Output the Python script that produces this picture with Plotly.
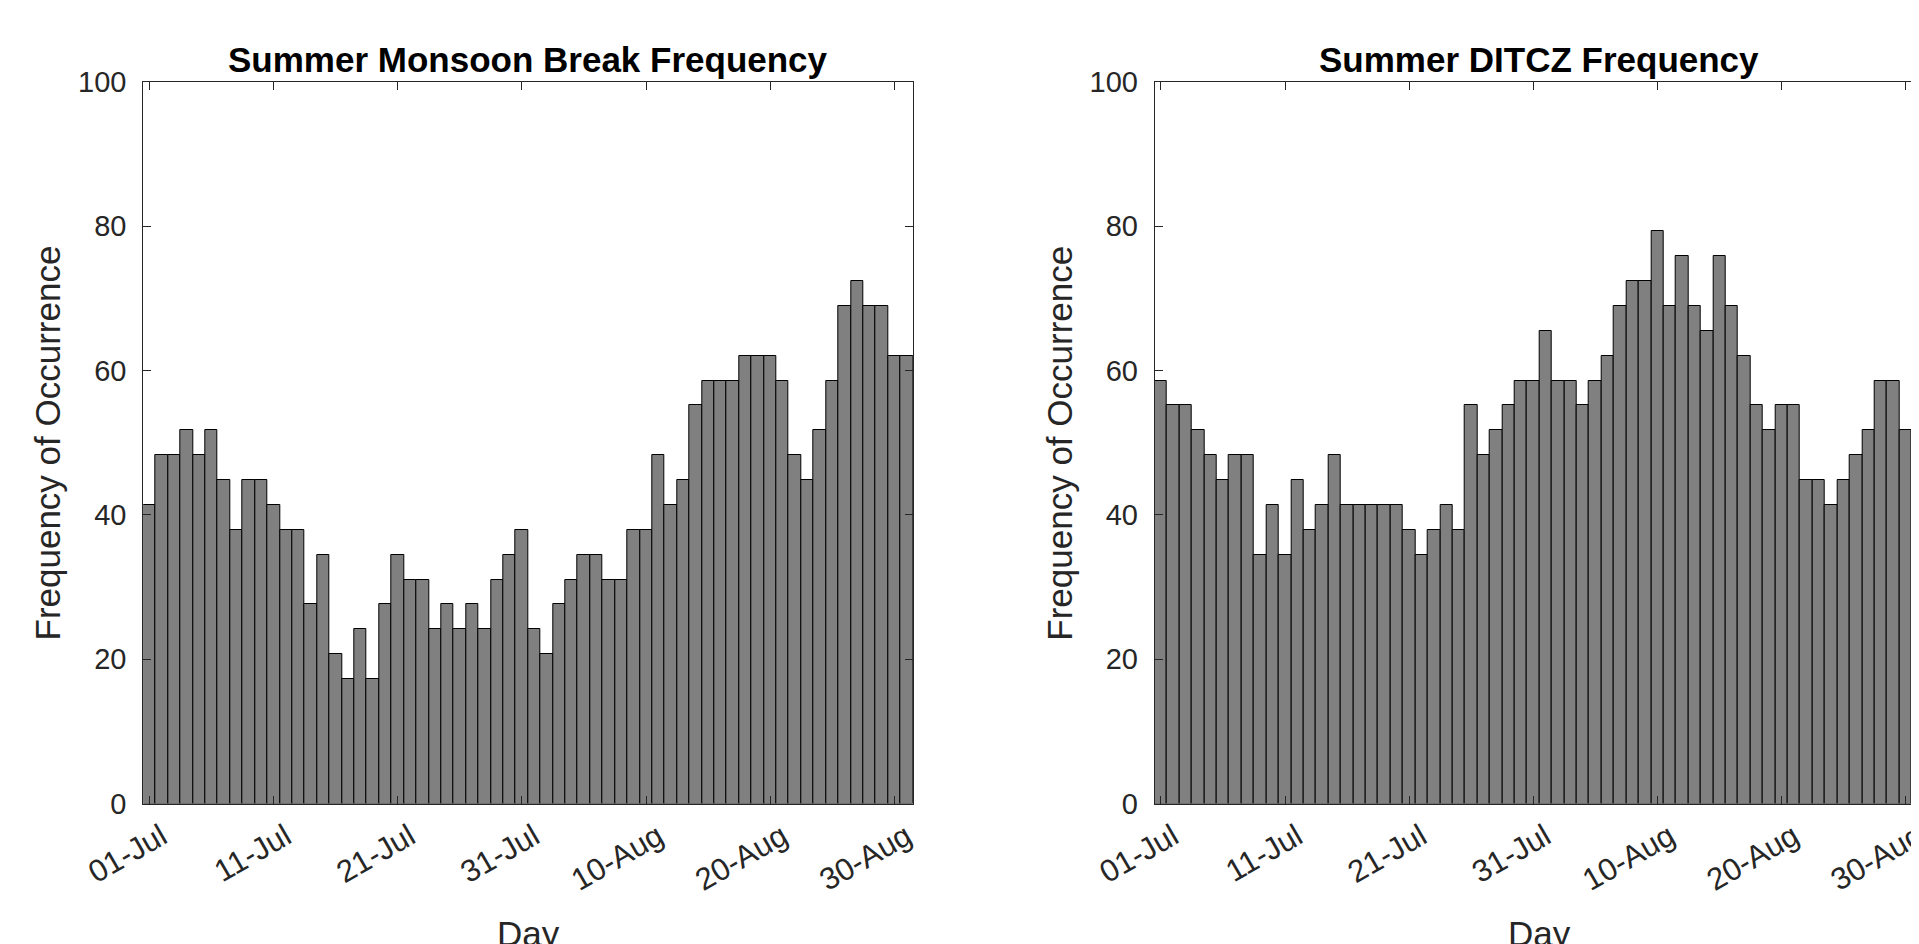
import plotly.graph_objects as go

# ---- data ----
days = list(range(1, 63))  # 01-Jul ... 31-Aug
tick_days = [1, 11, 21, 31, 41, 51, 61]
tick_labels = ["01-Jul", "11-Jul", "21-Jul", "31-Jul", "10-Aug", "20-Aug", "30-Aug"]
y_ticks = [0, 20, 40, 60, 80, 100]

break_freq = [41.38, 48.28, 48.28, 51.72, 48.28, 51.72, 44.83, 37.93, 44.83, 44.83,
              41.38, 37.93, 37.93, 27.59, 34.48, 20.69, 17.24, 24.14, 17.24, 27.59,
              34.48, 31.03, 31.03, 24.14, 27.59, 24.14, 27.59, 24.14, 31.03, 34.48,
              37.93, 24.14, 20.69, 27.59, 31.03, 34.48, 34.48, 31.03, 31.03, 37.93,
              37.93, 48.28, 41.38, 44.83, 55.17, 58.62, 58.62, 58.62, 62.07, 62.07,
              62.07, 58.62, 48.28, 44.83, 51.72, 58.62, 68.97, 72.41, 68.97, 68.97,
              62.07, 62.07]

ditcz_freq = [58.62, 55.17, 55.17, 51.72, 48.28, 44.83, 48.28, 48.28, 34.48, 41.38,
              34.48, 44.83, 37.93, 41.38, 48.28, 41.38, 41.38, 41.38, 41.38, 41.38,
              37.93, 34.48, 37.93, 41.38, 37.93, 55.17, 48.28, 51.72, 55.17, 58.62,
              58.62, 65.52, 58.62, 58.62, 55.17, 58.62, 62.07, 68.97, 72.41, 72.41,
              79.31, 68.97, 75.86, 68.97, 65.52, 75.86, 68.97, 62.07, 55.17, 51.72,
              55.17, 55.17, 44.83, 44.83, 41.38, 44.83, 48.28, 51.72, 58.62, 58.62,
              51.72, 51.72]

titles = ["Summer Monsoon Break Frequency", "Summer DITCZ Frequency"]
x_title = "Day"
y_title = "Frequency of Occurrence"

# ---- layout geometry (page pixels; the page body has an 8px margin) ----
PAGE_W, PAGE_H = 1919, 944
OFF = 8
W, H = PAGE_W - OFF, PAGE_H - OFF
FONT = "Liberation Sans, Arial, Helvetica, sans-serif"
AX = "#262626"

def px_x(p):
    return (p - OFF) / W

def px_y(p):
    return (H - (p - OFF)) / H

left_dom = [px_x(143.3), px_x(912.9)]
right_dom = [px_x(1154.7), 1.0]
ydom = [px_y(803.5), px_y(82.0)]
bar_px = (912.9 - 143.3) / 62.0
right_end = 0.5 + (PAGE_W - 1154.7) / bar_px

fig = go.Figure()
bar_style = dict(marker=dict(color="#808080", line=dict(color="#000000", width=1)), width=1.0)
fig.add_trace(go.Bar(x=days, y=break_freq, xaxis="x", yaxis="y", **bar_style))
fig.add_trace(go.Bar(x=days, y=ditcz_freq, xaxis="x2", yaxis="y2", **bar_style))

def xax(dom, rng, anchor):
    return dict(domain=dom, range=rng, anchor=anchor, automargin=False,
                tickmode="array", tickvals=tick_days, ticktext=tick_labels,
                tickangle=-30, ticks="inside", ticklen=8, tickcolor=AX, tickwidth=1,
                showline=True, linecolor=AX, linewidth=1, mirror="ticks",
                showgrid=False, zeroline=False,
                tickfont=dict(family=FONT, size=31, color=AX),
                ticklabelstandoff=2, ticklabelshift=12, ticklabeloverflow="allow")

def yax(dom, anchor):
    return dict(domain=dom, range=[0, 100], anchor=anchor, automargin=False,
                tickmode="array", tickvals=y_ticks,
                ticks="inside", ticklen=8, tickcolor=AX, tickwidth=1,
                showline=True, linecolor=AX, linewidth=1, mirror="ticks",
                showgrid=False, zeroline=False,
                tickfont=dict(family=FONT, size=29, color=AX), ticklabelstandoff=10)

ann = []
centers = [(143.3 + 912.9) / 2, (1154.7 + 1924.0) / 2]
ylab_x = [46.5, 1058.7]
for i in range(2):
    ann.append(dict(text="<b>" + titles[i] + "</b>", x=px_x(centers[i]), y=px_y(59), xref="paper", yref="paper",
                    xanchor="center", yanchor="middle", showarrow=False,
                    font=dict(family=FONT, size=35, color="#000000")))
    ann.append(dict(text=x_title, x=px_x(centers[i]), y=px_y(912), xref="paper", yref="paper",
                    xanchor="center", yanchor="top", showarrow=False,
                    font=dict(family=FONT, size=35, color=AX)))
    ann.append(dict(text=y_title, x=px_x(ylab_x[i]), y=px_y(443), xref="paper", yref="paper",
                    xanchor="center", yanchor="middle", showarrow=False, textangle=-90,
                    font=dict(family=FONT, size=35, color=AX)))

fig.update_layout(
    width=W, height=H, margin=dict(l=0, r=0, t=0, b=0, autoexpand=False),
    paper_bgcolor="white", plot_bgcolor="white",
    showlegend=False, bargap=0,
    xaxis=xax(left_dom, [0.5, 62.5], "y"),
    yaxis=yax(ydom, "x"),
    xaxis2=xax(right_dom, [0.5, right_end], "y2"),
    yaxis2=yax(ydom, "x2"),
    annotations=ann,
)

fig.write_html("out.html")
